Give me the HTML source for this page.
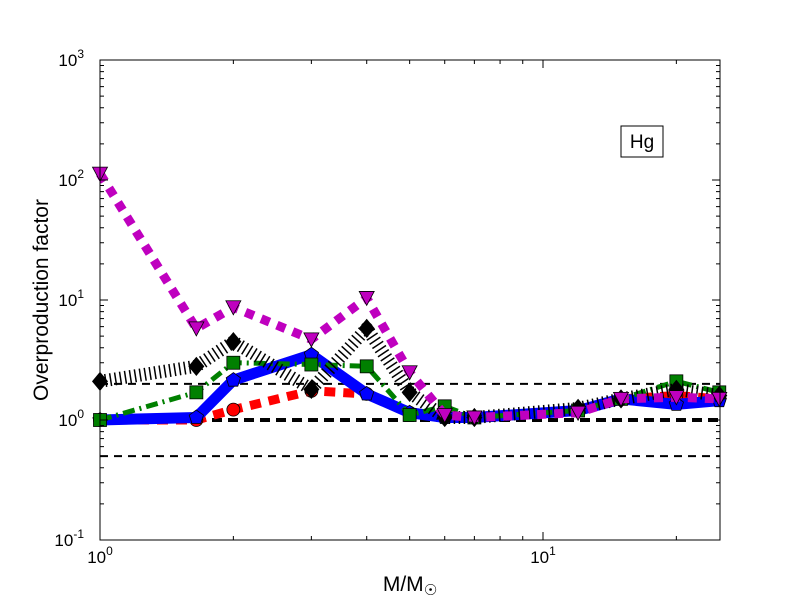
<!DOCTYPE html>
<html><head><meta charset="utf-8"><style>
body{margin:0;background:#fff}
svg{font-family:"Liberation Sans","DejaVu Sans",sans-serif}
</style></head><body>
<svg id="chart" width="800" height="600" xmlns="http://www.w3.org/2000/svg">
<rect width="800" height="600" fill="#fff"/>
<g id="plot"></g>
<rect x="100" y="60" width="620" height="480" fill="none" stroke="#000" stroke-width="1"/>
<g id="axes"></g>
<text x="48" y="300" font-size="21" text-anchor="middle" transform="rotate(-90 48 300)">Overproduction factor</text>
<text x="410" y="591" font-size="21" text-anchor="middle">M/M<tspan font-size="15" dy="4">☉</tspan></text>
<g>
<rect x="621" y="126" width="42" height="31" fill="#fff" stroke="#000" stroke-width="1"/>
<text x="642" y="148" font-size="19" text-anchor="middle">Hg</text>
</g>
</svg>
<script>
const masses=[1,1.65,2,3,4,5,6,7,12,15,20,25];
const redVals=[1.0,1.0,1.22,1.75,1.65,1.15,1.05,1.05,1.2,1.5,1.6,1.5];
const blueVals=[1.0,1.05,2.15,3.5,1.65,1.15,1.05,1.05,1.2,1.5,1.35,1.45];
const greenVals=[1.0,1.7,3.0,2.9,2.8,1.1,1.3,1.05,1.2,1.5,2.1,1.7];
const blackVals=[2.1,2.8,4.5,1.8,5.8,1.7,1.05,1.05,1.25,1.5,1.8,1.6];
const magentaVals=[113,5.8,8.7,4.7,10.4,2.5,1.1,1.05,1.15,1.5,1.55,1.5];
const refLines=[2,1,0.5];
const yTickExps=[-1,0,1,2,3];
const xTickExps=[0,1];

const NS="http://www.w3.org/2000/svg";
const X=m=>100+443*Math.log10(m);
const Y=v=>420-120*Math.log10(v);
const plot=document.getElementById('plot'),axes=document.getElementById('axes');
function mk(tag,attrs,parent){const e=document.createElementNS(NS,tag);for(const k in attrs)e.setAttribute(k,attrs[k]);parent.appendChild(e);return e;}

refLines.forEach((v,i)=>{
 const l=mk('line',{x1:100,x2:720,y1:Y(v),y2:Y(v),stroke:'#000','stroke-width':v===1?4:2,'stroke-dasharray':v===1?'10 6':'8 6'},plot);
 
 
});

const series=[
 {name:'red',vals:redVals,color:'#f00',w:9,dash:'11 8',marker:'circle'},
 {name:'blue',vals:blueVals,color:'#00f',w:11,dash:'',marker:'pentagon'},
 {name:'green',vals:greenVals,color:'#008000',w:5,dash:'12 5 2 5',marker:'square'},
 {name:'black',vals:blackVals,color:'#000',w:13,dash:'1.5 3.5',marker:'diamond'},
 {name:'magenta',vals:magentaVals,color:'#bf00bf',w:9,dash:'9 8',marker:'triangle'}
];
series.forEach(s=>{
 const g=mk('g',{},plot);
 
 
 const pts=masses.map((m,i)=>X(m).toFixed(1)+','+Y(s.vals[i]).toFixed(1)).join(' ');
 const pl=mk('polyline',{points:pts,fill:'none',stroke:s.color,'stroke-width':s.w,'stroke-dasharray':s.dash,'stroke-linejoin':'round'},g);
 
 
 masses.forEach((m,i)=>{
  const x=X(m),y=Y(s.vals[i]);let e;
  const a={fill:s.color,stroke:'#000','stroke-width':0.8};
  if(s.marker==='circle'){e=mk('circle',Object.assign({cx:x,cy:y,r:6.5},a),g);}
  else if(s.marker==='square'){e=mk('rect',Object.assign({x:x-6.5,y:y-6.5,width:13,height:13},a),g);}
  else if(s.marker==='diamond'){e=mk('polygon',Object.assign({points:`${x},${y-9} ${x+7.5},${y} ${x},${y+9} ${x-7.5},${y}`},a),g);}
  else if(s.marker==='triangle'){e=mk('polygon',Object.assign({points:`${x-7.5},${y-6.5} ${x+7.5},${y-6.5} ${x},${y+7.5}`},a),g);}
  else {const p=[];for(let k=0;k<5;k++){const t=-Math.PI/2+k*2*Math.PI/5;p.push((x+7.5*Math.cos(t)).toFixed(1)+','+(y+7.5*Math.sin(t)).toFixed(1));}e=mk('polygon',Object.assign({points:p.join(' ')},a),g);}
  
  
 });
});

yTickExps.forEach(e=>{
 const y=Y(Math.pow(10,e));
 mk('line',{x1:100,x2:108,y1:y,y2:y,stroke:'#000'},axes);
 mk('line',{x1:712,x2:720,y1:y,y2:y,stroke:'#000'},axes);
 const t=mk('text',{x:84,y:y+6,'font-size':17,'text-anchor':'end'},axes);
 
 
 t.innerHTML='10<tspan font-size="12" dy="-8">'+e+'</tspan>';
 if(e<3)for(let k=2;k<10;k++){const yy=Y(k*Math.pow(10,e));
  mk('line',{x1:100,x2:104,y1:yy,y2:yy,stroke:'#000'},axes);
  mk('line',{x1:716,x2:720,y1:yy,y2:yy,stroke:'#000'},axes);}
});
xTickExps.forEach(e=>{
 const x=X(Math.pow(10,e));
 mk('line',{x1:x,x2:x,y1:532,y2:540,stroke:'#000'},axes);
 mk('line',{x1:x,x2:x,y1:60,y2:68,stroke:'#000'},axes);
 const t=mk('text',{x:x,y:563,'font-size':17,'text-anchor':'middle'},axes);
 
 
 t.innerHTML='10<tspan font-size="12" dy="-8">'+e+'</tspan>';
});
for(let m=2;m<=25;m++){if(m===10)continue;if(m>10&&m%10!==0)continue;const x=X(m);if(x>720)continue;
 mk('line',{x1:x,x2:x,y1:536,y2:540,stroke:'#000'},axes);
 mk('line',{x1:x,x2:x,y1:60,y2:64,stroke:'#000'},axes);}
</script>
</body></html>
